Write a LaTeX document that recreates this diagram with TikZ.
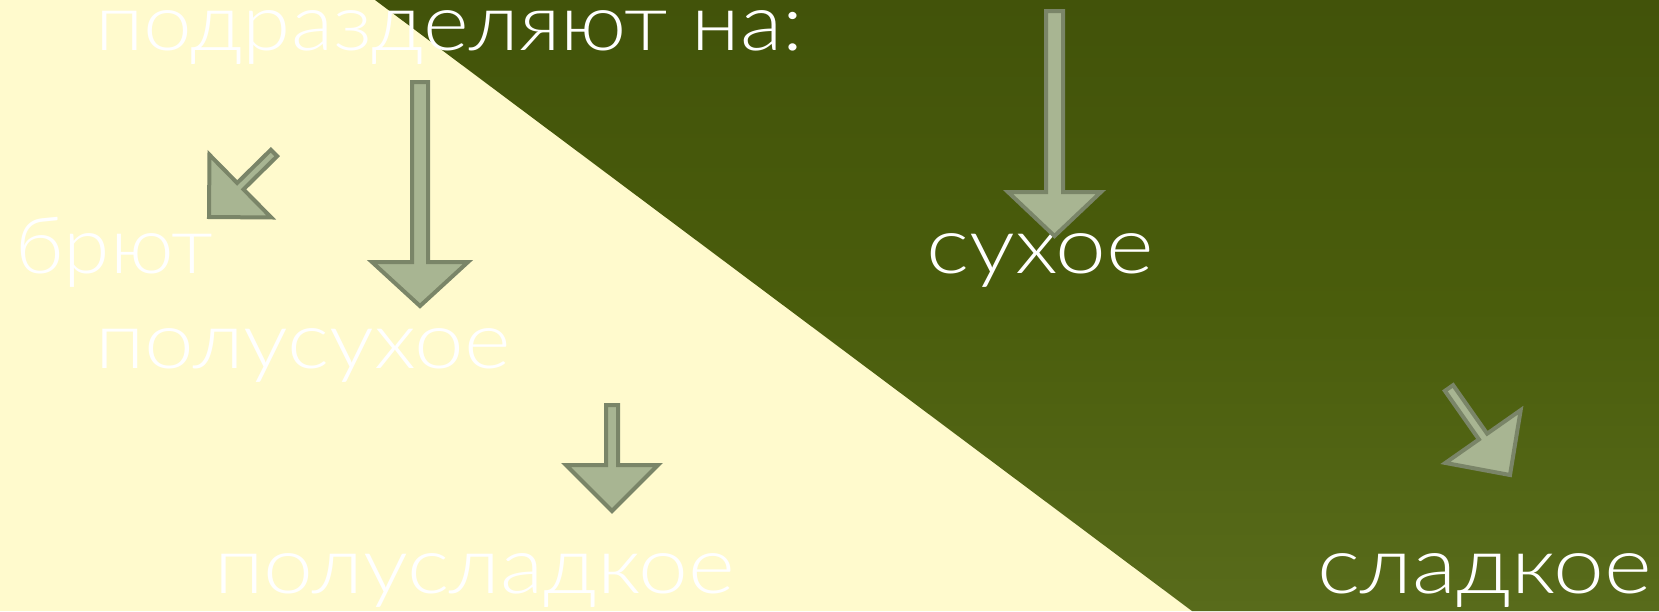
\documentclass[tikz,border=0pt]{standalone}
\usepackage{fontspec}
\setmainfont{Lato Light}
\usetikzlibrary{calc}
\definecolor{bgyellow}{RGB}{255,250,205}
\definecolor{greentop}{RGB}{66,83,10}
\definecolor{greenmid}{RGB}{74,93,12}
\definecolor{greenbot}{RGB}{88,107,27}
\definecolor{arrfill}{RGB}{168,181,146}
\definecolor{arrdraw}{RGB}{122,133,104}
\newsavebox\fitbox
\newcommand\fitto[2]{\sbox\fitbox{#2}\pgfmathsetmacro\fitsx{#1/\the\wd\fitbox}\ht\fitbox=0.52em\scalebox{\fitsx}[1]{\usebox\fitbox}}
\newcommand\blockarrow[6]{%
  \coordinate (#6b) at ($(#2)!#5!(#1)$);
  \draw[arrowshape] ($(#1)!#3!90:(#2)$) -- ($(#6b)!#3!-90:(#1)$) -- ($(#6b)!#4!-90:(#1)$) -- (#2)
    -- ($(#6b)!#4!90:(#1)$) -- ($(#6b)!#3!90:(#1)$) -- ($(#1)!#3!-90:(#2)$) -- cycle;
}
\tikzset{
  lbl/.style={text=white, font=\fontsize{79}{90}\selectfont, inner sep=0pt, anchor=base west},
  arrowshape/.style={fill=arrfill, draw=arrdraw, line width=4pt, line join=miter}
}
\begin{document}
\begin{tikzpicture}[x=1pt, y=-1pt]
\useasboundingbox (0,0) rectangle (1659,611);
\fill[bgyellow] (0,0) rectangle (1659,611);
\shade[top color=greentop, bottom color=greenbot, middle color=greenmid] (375,0) -- (1659,0) -- (1659,611) -- (1192,611) -- cycle;

% text
\node[lbl] (title) at (95,50) {\fitto{708}{подразделяют на:}};
\node[lbl] (brut) at (15,273) {\fitto{198}{брют}};
\node[lbl] (polusuh) at (95,368) {\fitto{415}{полусухое}};
\node[lbl] (polusl) at (214,593) {\fitto{521}{полусладкое}};
\node[lbl] (suh) at (926,273) {\fitto{228}{сухое}};
\node[lbl] (sl) at (1317,593) {\fitto{335}{сладкое}};

% arrows
\coordinate (a1t) at (420,82);   \coordinate (a1p) at (420,306);
\coordinate (a2t) at (1054.5,11); \coordinate (a2p) at (1054.5,236);
\coordinate (a3t) at (612,405);  \coordinate (a3p) at (612,511);
\coordinate (a4t) at (274,153);  \coordinate (a4p) at (209,217);
\coordinate (a5t) at (1449,388); \coordinate (a5p) at (1510,475);
\blockarrow{a1t}{a1p}{8pt}{48pt}{44pt}{a1}
\blockarrow{a2t}{a2p}{8.5pt}{46.5pt}{44pt}{a2}
\blockarrow{a3t}{a3p}{6pt}{46pt}{46pt}{a3}
\blockarrow{a4t}{a4p}{4.5pt}{44pt}{44pt}{a4}
\blockarrow{a5t}{a5p}{5pt}{46pt}{47pt}{a5}
\end{tikzpicture}
\end{document}
